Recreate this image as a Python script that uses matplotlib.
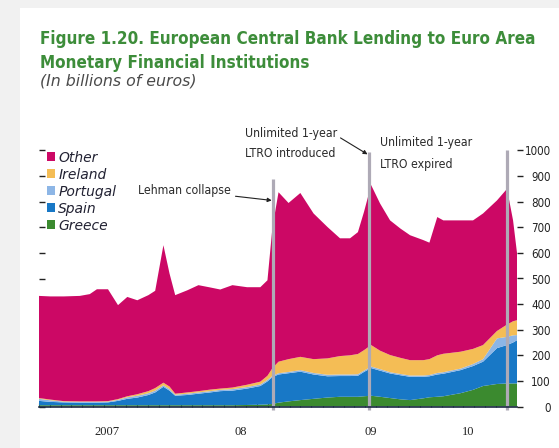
import matplotlib
matplotlib.use("Agg")
import matplotlib.pyplot as plt
import matplotlib.dates as mdates
import pandas as pd
from matplotlib.patches import Patch, Rectangle
from matplotlib import font_manager

# ECB lending to euro area MFIs, billions of euros (stacked by country)
dates = [
    "2006-12-01", "2007-01-02", "2007-02-08", "2007-03-25", "2007-04-22", "2007-05-12",
    "2007-06-12", "2007-07-10", "2007-08-05", "2007-09-02", "2007-10-03", "2007-10-22",
    "2007-11-14", "2007-12-01", "2007-12-17", "2008-01-20", "2008-02-20", "2008-03-24",
    "2008-04-21", "2008-05-25", "2008-07-05", "2008-08-11", "2008-08-31", "2008-09-14",
    "2008-10-01", "2008-10-29", "2008-12-01", "2009-01-07", "2009-02-15", "2009-03-22",
    "2009-04-19", "2009-05-11", "2009-05-28", "2009-06-17", "2009-07-12", "2009-08-09",
    "2009-09-07", "2009-10-04", "2009-11-10", "2009-11-27", "2009-12-19", "2010-01-05",
    "2010-02-22", "2010-03-29", "2010-04-26", "2010-06-04", "2010-07-02", "2010-07-19",
    "2010-07-30",
]
greece = [5, 5, 5, 5, 5, 5, 5, 5, 5, 5, 5, 5, 5, 5, 5, 5, 5, 5, 5, 5, 6, 7, 8, 10,
          15, 20, 25, 30, 35, 38, 38, 38, 40, 42, 38, 33, 28, 25, 32, 36, 38, 40,
          52, 65, 80, 88, 90, 90, 90]
spain = [17, 13, 11, 10, 10, 10, 11, 17, 25, 30, 40, 50, 72, 57, 37, 40, 45, 50, 55, 57,
         64, 73, 90, 105, 110, 110, 111, 95, 83, 81, 81, 82, 95, 108, 102, 96, 94, 91,
         84, 82, 87, 88, 90, 93, 95, 140, 150, 160, 169]
portugal = [8, 6, 3, 3, 3, 3, 3, 4, 6, 7, 7, 7, 6, 6, 4, 5, 5, 5, 5, 6, 6, 6, 6, 5,
            5, 5, 6, 6, 6, 6, 6, 6, 5, 6, 6, 5, 5, 5, 5, 5, 6, 6, 6, 8, 10, 38, 32, 28, 20]
ireland = [3, 3, 2, 2, 2, 2, 2, 3, 4, 6, 8, 10, 10, 10, 4, 5, 5, 6, 5, 6, 9, 11, 16, 30,
           45, 50, 52, 54, 64, 72, 75, 79, 80, 84, 72, 67, 63, 60, 60, 62, 69, 72,
           66, 59, 55, 29, 48, 55, 58]
other = [399, 403, 409, 412, 419, 438, 437, 367, 388, 367, 375, 380, 537, 442, 385, 399,
         414, 399, 387, 400, 381, 369, 373, 550, 662, 610, 640, 569, 513, 460, 457, 476,
         540, 625, 575, 526, 505, 488, 469, 455, 540, 521, 513, 502, 514, 510, 530, 394, 263]

series_labels = ["Greece", "Spain", "Portugal", "Ireland", "Other"]
series_colors = ["#3b8a2f", "#1878c6", "#8db6e6", "#f4bd55", "#cc0865"]

event_dates = ["2008-09-15", "2009-06-10", "2010-07-01"]
event_tops = [890, 995, 1000]

year_tick_dates = ["2007-06-10", "2008-06-17", "2009-06-15", "2010-03-16"]
year_tick_labels = ["2007", "08", "09", "10"]
value_ticks = list(range(0, 1001, 100))

W, H = 559, 448


def pick_font(candidates):
    names = {f.name for f in font_manager.fontManager.ttflist}
    for c in candidates:
        if c in names:
            return c
    return "DejaVu Sans"


NARROW = pick_font(["Liberation Sans Narrow", "DejaVu Sans"])
SERIF = pick_font(["Liberation Serif", "DejaVu Serif"])

fig = plt.figure(figsize=(W / 100, H / 100), dpi=100, facecolor="#f1f1f1")
fig.patches.append(Rectangle((20 / W, 0), 1 - 20 / W, 1 - 8 / H,
                             transform=fig.transFigure, facecolor="white",
                             edgecolor="none", zorder=-5))


def px(x, y):
    return x / W, 1 - y / H


renderer = fig.canvas.get_renderer()


def fit_text(x, y, s, width, **kw):
    t = fig.text(*px(x, y), s, **kw)
    w = t.get_window_extent(renderer).width
    t.set_fontsize(t.get_fontsize() * width / w)
    return t


title_kw = dict(family=NARROW, fontstretch="condensed", fontweight="bold",
                color="#3d8d3a", va="baseline", ha="left")
t1 = fit_text(40, 44, "Figure 1.20. European Central Bank Lending to Euro Area", 497,
              fontsize=16, **title_kw)
fig.text(*px(40, 68), "Monetary Financial Institutions", fontsize=t1.get_fontsize(), **title_kw)
fit_text(40, 86, "(In billions of euros)", 157, family="DejaVu Sans", style="italic",
         color="#4a4a4a", fontsize=9, va="baseline", ha="left")

ax = fig.add_axes([39 / W, 1 - 406.5 / H, (517 - 39) / W, (406.5 - 150.5) / H])
ax.set_facecolor("none")

x = mdates.date2num(pd.to_datetime(dates))
ax.stackplot(x, greece, spain, portugal, ireland, other,
             colors=series_colors, linewidth=0, zorder=2)

ev = mdates.date2num(pd.to_datetime(event_dates))
for xe, top in zip(ev, event_tops):
    ax.vlines(xe, -12, top, color="#aeaab6", linewidth=2.3, zorder=3, clip_on=False)

ax.set_xlim(x[0], x[-1])
ax.set_ylim(0, 1000)
for s in ["top", "left", "right"]:
    ax.spines[s].set_visible(False)
ax.spines["bottom"].set_color("#1c2a44")
ax.spines["bottom"].set_linewidth(1.2)
ax.spines["bottom"].set_zorder(4)

# year labels under the axis, monthly tick marks on it
ax.set_xticks(mdates.date2num(pd.to_datetime(year_tick_dates)))
ax.set_xticklabels(year_tick_labels, family=SERIF, fontsize=9, color="#222222")
ax.xaxis.set_minor_locator(mdates.MonthLocator())
ax.tick_params(axis="x", which="major", length=0, pad=14)
ax.tick_params(axis="x", which="minor", length=3, direction="in", color="#1c2a44", width=0.8)

ax.set_yticks(value_ticks)
ax.tick_params(axis="y", left=True, right=False, labelleft=False, direction="in",
               length=4, width=1, color="#222222")
ax.set_axisbelow(True)

axr = ax.twinx()
axr.set_ylim(0, 1000)
axr.set_yticks(value_ticks)
axr.set_yticklabels([str(v) for v in value_ticks], family=NARROW, fontstretch="condensed",
                    fontsize=8.3, color="#222222", ha="right")
axr.tick_params(axis="y", direction="out", length=4, width=1, color="#222222", pad=20.5)
for s in axr.spines.values():
    s.set_visible(False)

# legend in the upper-left corner, top entry first
handles = [Patch(facecolor=c, edgecolor="none") for c in series_colors[::-1]]
leg = ax.legend(handles, series_labels[::-1], loc="upper left",
                bbox_to_anchor=(0.017, 1.0), frameon=False, borderpad=0, borderaxespad=0,
                handlelength=0.6, handleheight=0.6, handletextpad=0.2,
                labelspacing=0.22, prop=dict(family="DejaVu Sans", style="italic", size=10))
for t in leg.get_texts():
    t.set_color("#222233")

ann_kw = dict(family=NARROW, fontstretch="condensed", fontsize=8.8, color="#2a2a2a")
arrow = dict(arrowstyle="-|>", color="#222222", lw=0.8, mutation_scale=6,
             shrinkA=1, shrinkB=0)
ax.annotate("Lehman collapse", xy=(ev[0] - 3, 805),
            xytext=(mdates.date2num(pd.Timestamp("2008-05-22")), 844),
            ha="right", va="center", arrowprops=arrow, annotation_clip=False, **ann_kw)
ax.annotate("Unlimited 1-year\nLTRO introduced", xy=(ev[1] - 3, 985),
            xytext=(mdates.date2num(pd.Timestamp("2008-06-28")), 1027),
            ha="left", va="center", linespacing=1.7, annotation_clip=False,
            **ann_kw)
ax.annotate("", xy=(ev[1] - 3, 985),
            xytext=(mdates.date2num(pd.Timestamp("2009-03-20")), 1052),
            arrowprops=arrow, annotation_clip=False)
ax.annotate("Unlimited 1-year\nLTRO expired",
            xy=(mdates.date2num(pd.Timestamp("2009-07-12")), 987),
            ha="left", va="center", linespacing=1.9, annotation_clip=False, **ann_kw)

fig.savefig("out.png", dpi=100, facecolor=fig.get_facecolor())
